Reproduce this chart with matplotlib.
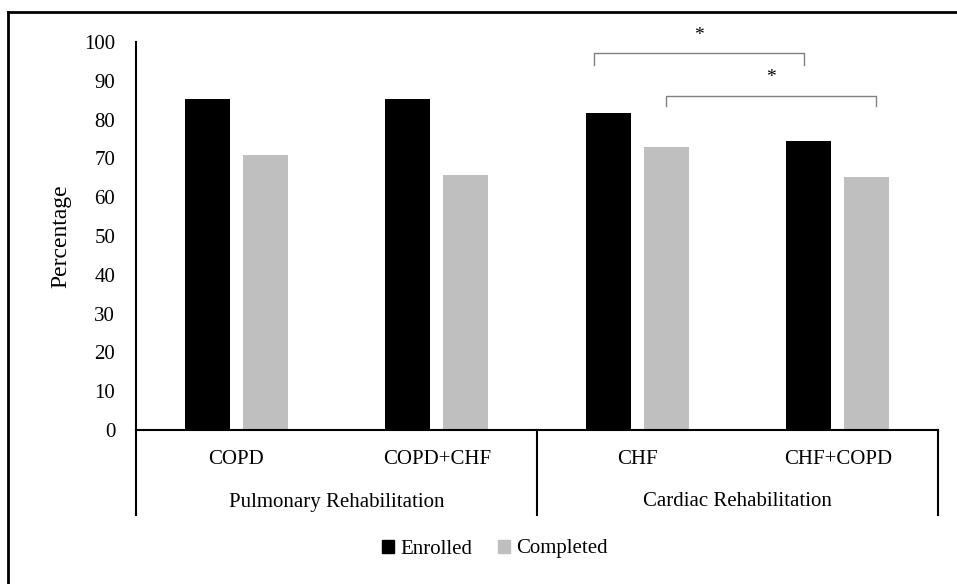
import matplotlib.pyplot as plt
from matplotlib.lines import Line2D
from matplotlib.patches import Patch
import numpy as np

plt.rcParams['font.family'] = ['Liberation Serif', 'DejaVu Serif']

categories = ['COPD', 'COPD+CHF', 'CHF', 'CHF+COPD']
groups = ['Pulmonary Rehabilitation', 'Cardiac Rehabilitation']
enrolled = [85.3, 85.3, 81.7, 74.5]
completed = [71.0, 65.8, 73.0, 65.3]

W, H = 957, 584
fig = plt.figure(figsize=(W / 100, H / 100), dpi=100)

# axes placed in pixel terms: x 136..938, y 42 (100) .. 430 (0)
ax = fig.add_axes([136 / W, (H - 430) / H, (938 - 136) / W, (430 - 42) / H])

x = np.arange(len(categories))
bw = 0.225
ax.bar(x - 0.145, enrolled, bw, color='black', label='Enrolled')
ax.bar(x + 0.145, completed, bw, color='#bfbfbf', label='Completed')

ax.set_xlim(-0.5, 3.5)
ax.set_ylim(0, 100)
ax.set_yticks(np.arange(0, 101, 10))
ax.set_xticks([])
ax.tick_params(axis='y', length=0, pad=15, labelsize=15)
for s in ['top', 'right']:
    ax.spines[s].set_visible(False)
ax.spines['left'].set_linewidth(1.5)
ax.spines['bottom'].set_linewidth(1.5)
ax.set_ylabel('Percentage', fontsize=17)
ax.yaxis.set_label_coords(-0.08, 0.5)

# category + group labels below the axis
trans = ax.get_xaxis_transform()
for i, c in enumerate(categories):
    ax.text(i, -30 / 388, c, transform=trans, ha='center', va='center', fontsize=15)
for g, gx in zip(groups, [0.5, 2.5]):
    ax.text(gx, -72 / 388, g, transform=trans, ha='center', va='center', fontsize=15)
for sx in [-0.5, 1.5, 3.5]:
    ax.plot([sx, sx], [0, -85 / 388], transform=trans, color='black', lw=1.5, clip_on=False)

# significance brackets
def bracket(x0, x1, y, h, star_y):
    ax.plot([x0, x0, x1, x1], [y - h, y, y, y - h], color='#808080', lw=1, clip_on=False)
    ax.text((x0 + x1) / 2, star_y, '*', ha='center', va='center', fontsize=14, clip_on=False)

bracket(1.785, 2.833, 97.2, 3.2, 101.8)
bracket(2.145, 3.19, 86.2, 2.8, 90.8)

# legend
handles = [Patch(color='black'), Patch(color='#bfbfbf')]
fig.legend(handles, ['Enrolled', 'Completed'], loc='center', bbox_to_anchor=(495 / W, 1 - 549 / H),
           ncol=2, frameon=False, fontsize=15, handlelength=0.6, handleheight=0.6,
           handletextpad=0.3, columnspacing=1.2)

# outer frame (top and left only)
fig.add_artist(Line2D([8 / W, 1], [1 - 12 / H, 1 - 12 / H], transform=fig.transFigure, color='black', lw=2))
fig.add_artist(Line2D([8 / W, 8 / W], [0, 1 - 12 / H], transform=fig.transFigure, color='black', lw=2))

fig.savefig('out.png', dpi=100)
